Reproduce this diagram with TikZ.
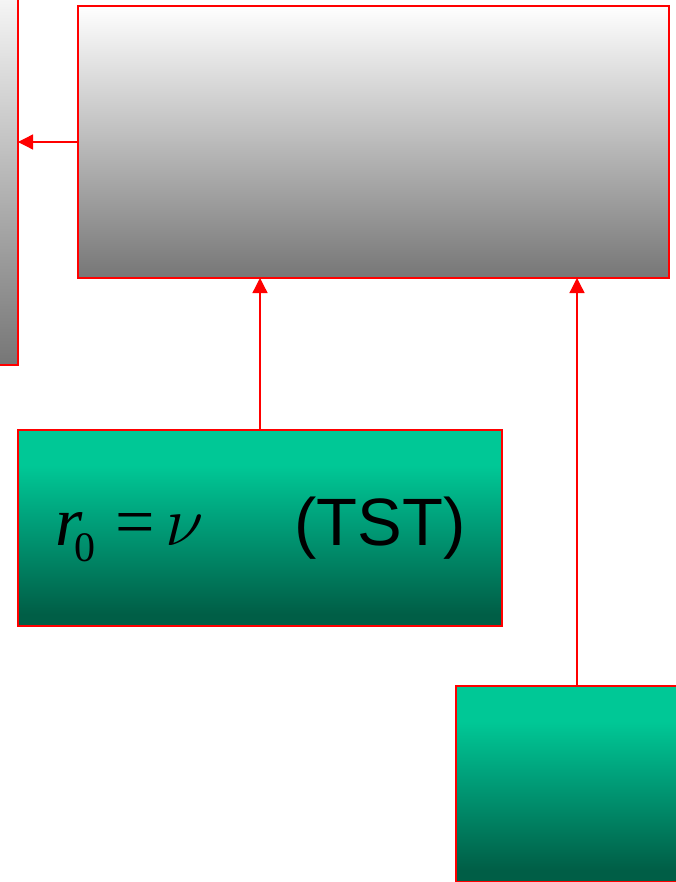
\RequirePackage{fix-cm}
\documentclass[tikz,border=0pt]{standalone}
\usepackage{fontspec}
\setmainfont{Liberation Sans}
\newfontfamily\timesfont{Liberation Serif}
\usetikzlibrary{arrows.meta}
\definecolor{linkred}{RGB}{255,0,0}
\definecolor{glight}{RGB}{0,200,150}
\definecolor{gdark}{RGB}{0,94,70}
\definecolor{gmid}{RGB}{0,160,122}
\definecolor{grayend}{RGB}{118,118,118}
% TikZ maps the 25bp..75bp band of a shading onto the filled box
\pgfdeclareverticalshading{greenfade}{100bp}{color(0bp)=(gdark); color(28bp)=(gdark); color(52bp)=(gmid); color(66bp)=(glight); color(100bp)=(glight)}
\pgfdeclareverticalshading{grayfade}{100bp}{color(0bp)=(grayend); color(25bp)=(grayend); color(75bp)=(white); color(100bp)=(white)}
\tikzset{
  panel/.style={draw=linkred, line width=1.6pt, inner sep=0pt, outer sep=0pt, anchor=north west},
  graypanel/.style={panel, shading=grayfade},
  greenpanel/.style={panel, shading=greenfade},
  conn/.style={draw=linkred, line width=1.3pt, -{Triangle[length=15pt,width=15pt]}},
}
\begin{document}
\begin{tikzpicture}[x=1pt,y=-1pt]
\useasboundingbox (0,0) rectangle (675,882);
% grey panels
\node[graypanel, minimum width=250pt, minimum height=395pt, anchor=north east] (side) at (18,-30) {};
\node[graypanel, minimum width=591pt, minimum height=272pt] (top) at (78,6) {};
% green panels
\node[greenpanel, minimum width=484pt, minimum height=196pt] (tst) at (18,430) {};
\node[greenpanel, minimum width=242pt, minimum height=196pt] (low) at (456,686) {};
% labels of the TST panel
\node[anchor=base west, inner sep=0pt, font=\timesfont\fontsize{70}{70}\selectfont] (rate) at (55,545)
  {\itshape r\kern-8pt\upshape\raisebox{-16pt}{\fontsize{42}{42}\selectfont 0}\hspace{20pt}=\hspace{11pt}$\nu$};
\node[anchor=base west, inner sep=0pt, font=\fontsize{67}{67}\selectfont] (tstname) at (294,545) {(TST)};
% connectors
\draw[conn] (top.west) -- (side.east |- top.west);
\draw[conn] (tst.north) -- (tst.north |- top.south);
\draw[conn] (low.north) -- (low.north |- top.south);
\end{tikzpicture}
\end{document}
